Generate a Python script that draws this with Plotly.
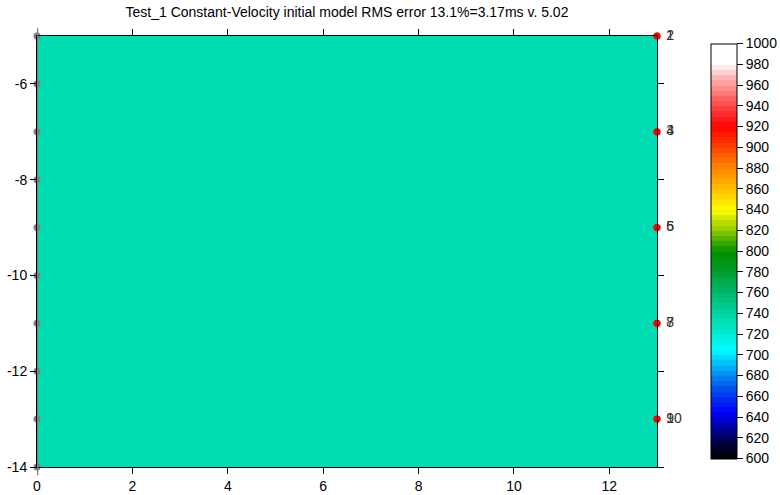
import plotly.graph_objects as go

# ---- data ----
x_edges = [0, 13]
y_edges = [-14, -5]
velocity = [[730]]

src_x = [0] * 10
src_y = [-5, -6, -7, -8, -9, -10, -11, -12, -13, -14]

rec_x = [13] * 10
rec_y = [-5, -5, -7, -7, -9, -9, -11, -11, -13, -13]
rec_labels = ["1", "2", "3", "4", "5", "6", "7", "8", "9", "10"]

x_ticks = [0, 2, 4, 6, 8, 10, 12]
y_ticks = [-6, -8, -10, -12, -14]
y_ticklabels = ["-6", "-8", "-10", "-12", "-14"]

title_text = "Test_1 Constant-Velocity initial model RMS error 13.1%=3.17ms v. 5.02"

# ---- colour scale (stepped) ----
anchors = [
    (600, (0, 0, 0)), (615, (0, 0, 60)), (630, (0, 0, 160)), (645, (0, 0, 255)),
    (665, (0, 70, 235)), (685, (0, 160, 245)), (705, (0, 255, 255)),
    (730, (0, 224, 184)), (760, (0, 185, 110)), (785, (0, 150, 30)), (800, (0, 145, 0)),
    (820, (140, 200, 0)), (840, (255, 255, 0)), (860, (255, 190, 0)), (885, (255, 120, 0)),
    (920, (255, 0, 0)), (945, (255, 90, 90)), (965, (255, 170, 170)), (978, (255, 235, 235)),
    (982, (255, 255, 255)), (1000, (255, 255, 255)),
]
zmin, zmax = 600, 1000


def col_at(v):
    for (v0, c0), (v1, c1) in zip(anchors[:-1], anchors[1:]):
        if v0 <= v <= v1:
            t = (v - v0) / (v1 - v0)
            return tuple(round(a + (b - a) * t) for a, b in zip(c0, c1))
    return anchors[-1][1]


step = 5
cs = []
v = zmin
while v < zmax:
    c = col_at(v + step / 2)
    s = f"rgb{c}"
    cs.append([(v - zmin) / (zmax - zmin), s])
    cs.append([(v + step - zmin) / (zmax - zmin), s])
    v += step

fig = go.Figure()
fig.add_trace(go.Heatmap(
    x=x_edges, y=y_edges, z=velocity, zmin=zmin, zmax=zmax,
    colorscale=cs, showscale=True, hoverinfo="skip",
    colorbar=dict(
        x=1.0871, xanchor="left", xpad=0, y=0.501, yanchor="middle",
        lenmode="pixels", len=415, ypad=0, thickness=26, thicknessmode="pixels",
        outlinecolor="black", outlinewidth=1,
        tickmode="linear", tick0=600, dtick=20, ticks="outside", ticklen=6,
        tickcolor="black", tickfont=dict(family="Arial", size=14, color="black"),
    ),
))

fig.add_trace(go.Scatter(
    x=src_x, y=src_y, mode="markers",
    marker=dict(color="#808080", size=7), cliponaxis=False, showlegend=False,
))
fig.add_trace(go.Scatter(
    x=rec_x, y=rec_y, mode="markers+text", text=[" " + t for t in rec_labels],
    textposition="middle right", textfont=dict(family="Arial", size=14, color="#333333"),
    marker=dict(color="red", size=7), cliponaxis=False, showlegend=False,
))

fig.add_shape(type="line", xref="x", yref="paper", x0=0, x1=0, y0=-0.019, y1=1.019,
              line=dict(color="#808080", width=2.5))

fig.update_layout(
    width=780, height=495,
    margin=dict(l=37, r=123, t=36, b=28, autoexpand=False),
    paper_bgcolor="white", plot_bgcolor="white",
    title=dict(text=title_text, x=0.5, xref="paper", y=0.976, yanchor="middle",
               font=dict(family="Arial", size=14, color="black")),
    showlegend=False,
    font=dict(family="Arial", size=14, color="black"),
)
fig.update_xaxes(range=[0, 13], tickmode="array", tickvals=x_ticks, ticks="outside",
                 ticklen=6, tickcolor="black", showline=True, linecolor="black",
                 mirror="ticks", showgrid=False, zeroline=False, automargin=False,
                 tickfont=dict(family="Arial", size=14, color="black"))
fig.update_yaxes(range=[-14, -5], tickmode="array", tickvals=y_ticks, ticktext=y_ticklabels,
                 ticks="outside", ticklen=6, tickcolor="black", showline=True,
                 linecolor="black", mirror="ticks", showgrid=False, zeroline=False,
                 automargin=False, tickfont=dict(family="Arial", size=14, color="black"))

fig.write_html("out.html")
